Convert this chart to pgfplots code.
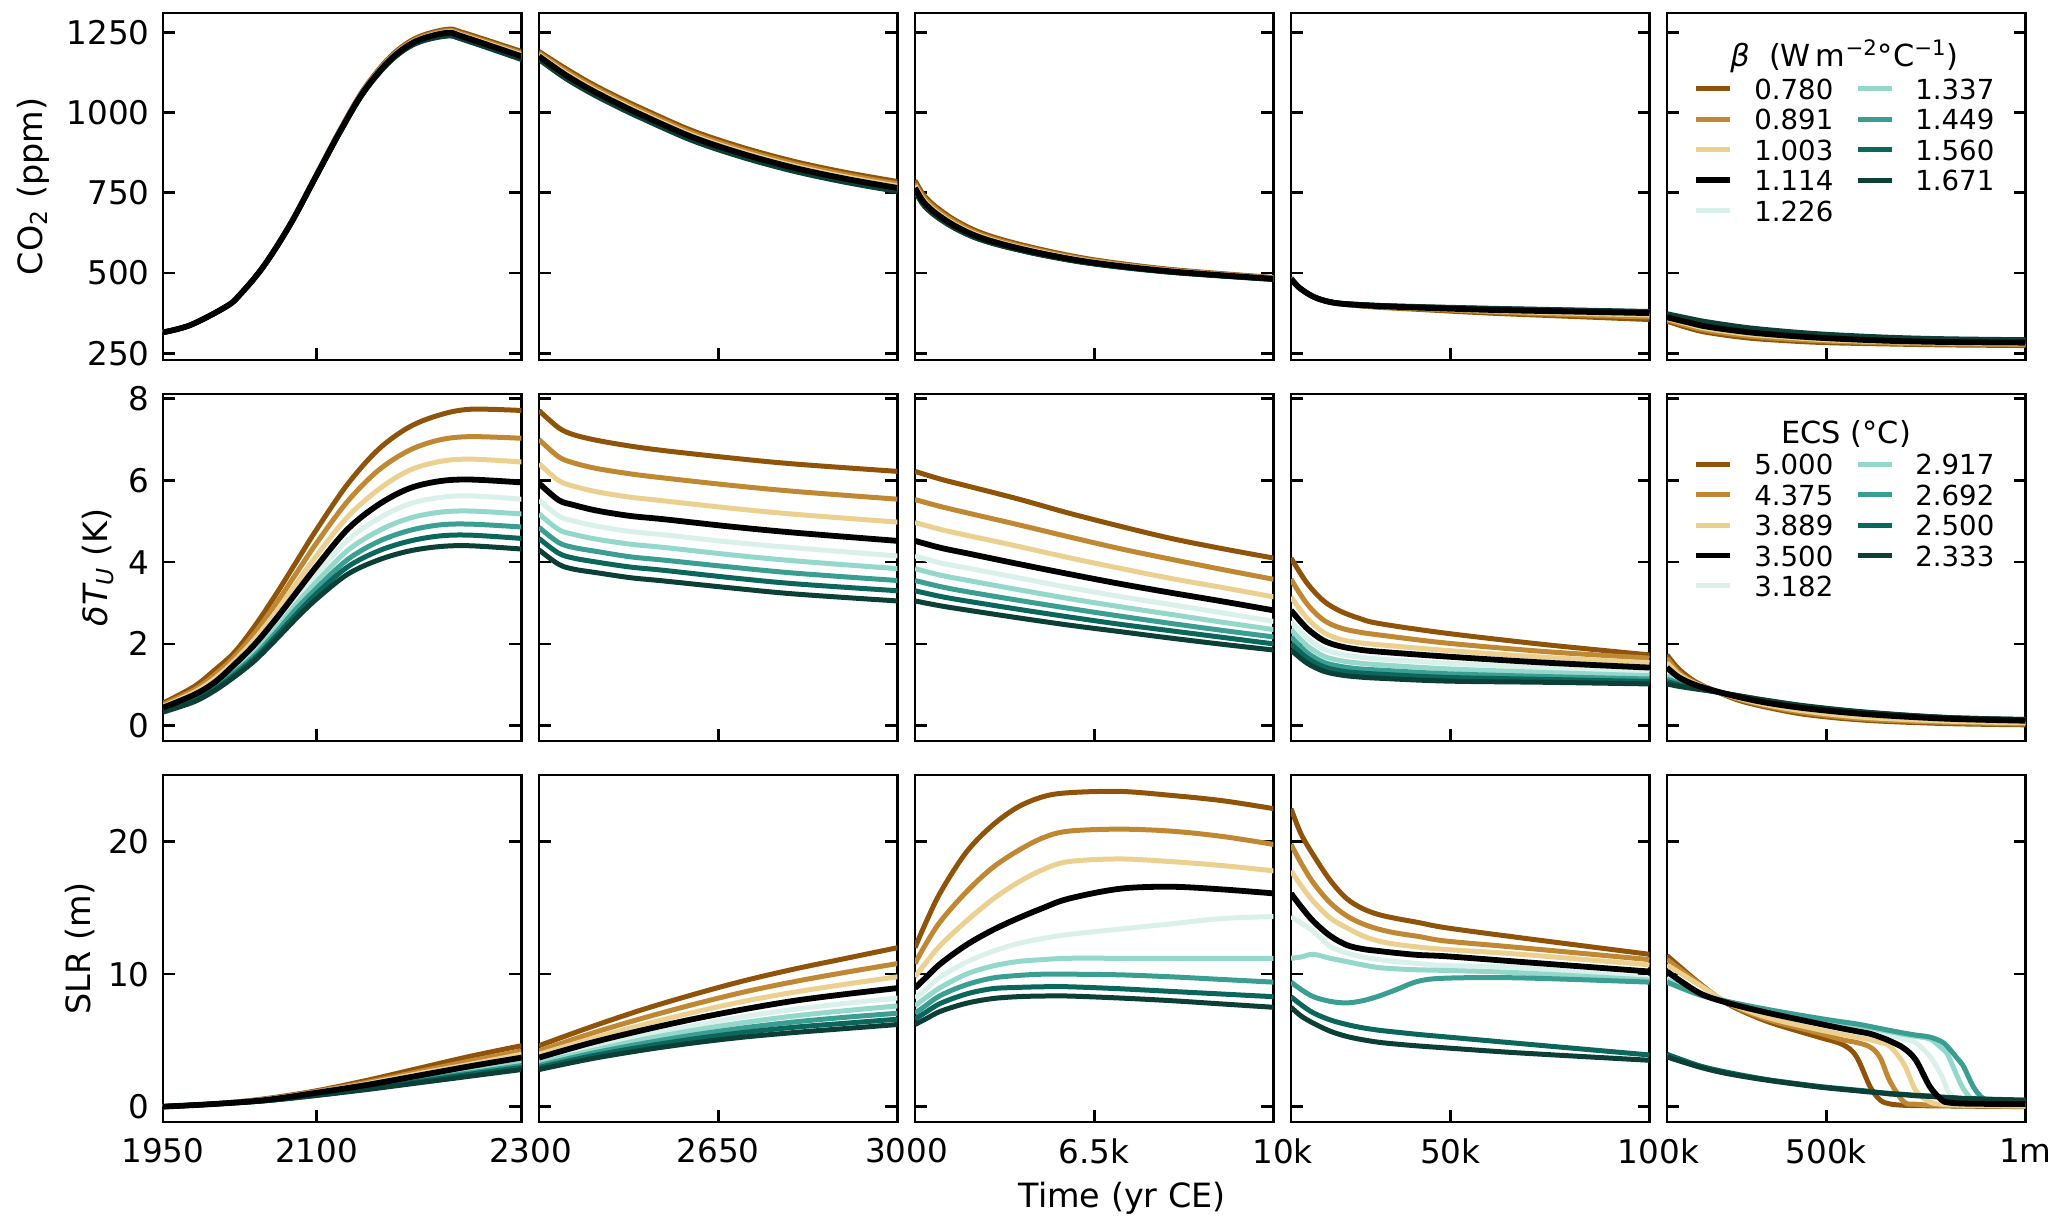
\documentclass[border=0pt]{standalone}
\usepackage{fontspec}
\setmainfont{DejaVu Sans}
\usepackage{pgfplots}
\usepackage{pgfplotstable}
\pgfplotsset{compat=1.18}

\definecolor{cA}{HTML}{8F5409}
\definecolor{cB}{HTML}{C08832}
\definecolor{cC}{HTML}{EBD08F}
\definecolor{cE}{HTML}{DAF0EB}
\definecolor{cF}{HTML}{93D8CA}
\definecolor{cG}{HTML}{3B9E92}
\definecolor{cH}{HTML}{0B665C}
\definecolor{cI}{HTML}{0C3F35}

% columns: time, then the nine runs from lowest beta to highest
% --- CO2 ---
\pgfplotstableread{
1950 315 315 315 315 315 315 315 315 315
1977 338 338 338 338 338 338 338 338 338
2012 396 396 396 396 396 396 396 396 396
2025 432 432 432 432 432 432 432 432 432
2048 521 521 520 520 520 520 520 520 520
2074 652 651 651 650 650 650 650 649 649
2100 808 807 806 805 805 804 804 804 803
2123 947 945 944 942 941 941 940 940 939
2146 1073 1071 1068 1066 1065 1064 1063 1063 1062
2172 1174 1171 1168 1165 1164 1163 1162 1161 1160
2197 1232 1228 1225 1222 1220 1219 1218 1217 1215
2227 1259 1255 1251 1248 1246 1244 1242 1240 1238
2243 1249 1244 1240 1236 1234 1232 1230 1229 1227
2300 1190 1185 1180 1175 1173 1171 1169 1167 1165
}\coa
\pgfplotstableread{
2300 1190 1185 1180 1175 1173 1171 1169 1167 1165
2350 1139 1132 1125 1119 1116 1114 1112 1110 1108
2400 1092 1085 1078 1072 1069 1067 1065 1063 1061
2450 1051 1044 1037 1031 1028 1026 1024 1022 1020
2500 1013 1006 999 993 990 988 986 984 982
2600 943 936 929 923 920 918 916 914 912
2700 890 883 876 870 867 865 863 861 859
2800 847 840 833 827 824 822 820 818 816
2900 813 806 799 793 790 788 786 784 782
3000 785 778 771 765 762 760 758 756 754
}\cob
\pgfplotstableread{
3000 788 778 772 765 762 760 758 756 754
3150 747 739 732 725 722 720 718 716 715
3300 721 714 706 700 697 695 693 692 690
3500 695 688 681 675 672 671 669 668 666
3800 663 657 650 645 642 641 640 638 637
4200 631 625 620 615 613 612 610 609 608
4700 604 599 594 590 588 587 586 585 584
5500 572 568 564 560 558 557 556 556 555
6500 541 538 535 532 531 530 529 529 528
8000 511 509 507 505 504 504 503 503 502
10000 486 485 483 482 481 481 481 480 480
}\coc
\pgfplotstableread{
10000 485 484 483 482 481 481 481 480 480
12000 455 455 455 455 455 455 455 455 455
15000 430 430 430 430 430 430 430 430 430
18000 415 415 415 415 415 415 416 416 416
22000 405 405 405 405 405 405 406 406 406
30000 395 396 397 398 398 399 399 400 400
40000 388 390 392 393 394 394 395 395 396
60000 375 379 382 385 386 387 388 389 390
80000 365 370 375 380 381 382 383 384 385
100000 355 363 369 375 376 377 378 379 380
}\cod
\pgfplotstableread{
100000 350 354 358 362 364 367 369 371 373
150000 330 336 342 347 350 353 355 358 360
200000 315 321 327 333 336 339 342 345 348
300000 298 304 310 316 319 322 325 328 330
400000 289 294 300 305 308 311 313 316 318
500000 283 288 292 297 300 302 304 307 309
650000 279 282 286 289 291 293 295 298 300
800000 276 279 282 285 287 289 291 293 295
1000000 274 277 280 283 285 287 288 290 292
}\coe
% --- upper ocean temperature ---
\pgfplotstableread{
1950 .55 .51 .47 .44 .41 .39 .37 .35 .33
1980 .95 .87 .81 .75 .71 .67 .64 .61 .58
2000 1.35 1.23 1.14 1.05 1.00 .96 .92 .88 .85
2020 1.80 1.69 1.59 1.50 1.43 1.36 1.30 1.25 1.20
2040 2.45 2.28 2.13 2.00 1.90 1.81 1.73 1.66 1.60
2060 3.20 2.97 2.77 2.60 2.48 2.36 2.27 2.18 2.10
2080 4.00 3.72 3.47 3.25 3.10 2.97 2.85 2.72 2.62
2100 4.80 4.47 4.16 3.90 3.70 3.52 3.36 3.23 3.10
2130 5.90 5.48 5.10 4.80 4.53 4.28 4.06 3.88 3.70
2160 6.75 6.24 5.77 5.40 5.06 4.76 4.50 4.27 4.05
2190 7.30 6.73 6.24 5.80 5.42 5.07 4.77 4.51 4.27
2220 7.60 6.99 6.46 5.98 5.58 5.22 4.91 4.64 4.38
2250 7.74 7.07 6.52 6.02 5.62 5.25 4.93 4.66 4.40
2300 7.71 7.03 6.45 5.95 5.54 5.18 4.86 4.58 4.32
}\dta
\pgfplotstableread{
2300 7.71 7.00 6.41 5.93 5.52 5.18 4.85 4.58 4.30
2338 7.29 6.58 6.00 5.52 5.13 4.80 4.48 4.22 3.95
2367 7.12 6.43 5.86 5.40 5.01 4.68 4.36 4.10 3.83
2413 6.98 6.29 5.72 5.26 4.88 4.56 4.26 4.00 3.74
2478 6.84 6.16 5.59 5.13 4.75 4.44 4.13 3.88 3.62
2543 6.73 6.06 5.50 5.05 4.67 4.36 4.05 3.80 3.54
2674 6.55 5.88 5.32 4.87 4.49 4.18 3.88 3.62 3.37
2800 6.40 5.73 5.17 4.72 4.35 4.03 3.73 3.47 3.22
3000 6.22 5.54 4.98 4.52 4.15 3.84 3.55 3.30 3.05
}\dtb
\pgfplotstableread{
3000 6.22 5.53 4.97 4.52 4.15 3.84 3.55 3.30 3.05
3500 6.03 5.36 4.80 4.35 3.98 3.68 3.40 3.16 2.93
4000 5.87 5.21 4.66 4.22 3.86 3.56 3.28 3.05 2.83
5000 5.55 4.92 4.39 3.96 3.62 3.33 3.07 2.85 2.64
6000 5.20 4.62 4.11 3.71 3.38 3.11 2.87 2.66 2.46
7000 4.88 4.33 3.85 3.47 3.16 2.91 2.68 2.48 2.30
8000 4.58 4.07 3.60 3.25 2.96 2.72 2.50 2.32 2.14
9000 4.33 3.82 3.38 3.04 2.76 2.53 2.33 2.16 1.99
10000 4.10 3.58 3.15 2.82 2.55 2.35 2.17 2.00 1.85
}\dtc
\pgfplotstableread{
10000 4.10 3.58 3.15 2.82 2.55 2.35 2.17 2.00 1.85
14000 3.49 2.98 2.63 2.38 2.15 1.96 1.79 1.66 1.53
18200 3.05 2.58 2.28 2.08 1.87 1.70 1.55 1.44 1.33
22400 2.80 2.39 2.11 1.94 1.75 1.59 1.45 1.34 1.24
27000 2.63 2.29 2.03 1.86 1.68 1.53 1.39 1.29 1.19
32000 2.50 2.22 1.98 1.81 1.63 1.49 1.36 1.26 1.16
49000 2.26 2.02 1.84 1.69 1.53 1.39 1.27 1.18 1.09
74000 1.98 1.81 1.67 1.54 1.41 1.30 1.20 1.13 1.06
100000 1.73 1.65 1.54 1.42 1.31 1.22 1.14 1.08 1.02
}\dtd
\pgfplotstableread{
100000 1.73 1.65 1.54 1.42 1.31 1.22 1.14 1.08 1.02
130000 1.38 1.30 1.25 1.18 1.12 1.08 1.04 1.00 .96
170000 1.08 1.05 1.03 1.00 .98 .96 .94 .92 .90
220000 .85 .85 .85 .85 .85 .84 .84 .83 .83
280000 .62 .65 .67 .70 .71 .72 .72 .73 .73
350000 .45 .48 .51 .56 .58 .59 .60 .61 .62
450000 .27 .31 .35 .42 .44 .45 .46 .47 .48
600000 .13 .16 .20 .28 .30 .31 .32 .32 .33
800000 .05 .08 .11 .17 .18 .19 .19 .20 .20
1000000 .02 .04 .07 .12 .13 .14 .14 .15 .15
}\dte
% --- sea level ---
\pgfplotstableread{
1950 0 0 0 0 0 0 0 0 0
2000 .20 .20 .20 .20 .20 .20 .20 .20 .20
2050 .60 .55 .55 .50 .50 .50 .45 .45 .45
2100 1.20 1.15 1.10 1.05 1.00 .95 .90 .85 .85
2150 2.00 1.85 1.75 1.65 1.55 1.50 1.40 1.35 1.30
2200 2.90 2.65 2.50 2.35 2.20 2.10 2.00 1.90 1.80
2250 3.80 3.45 3.20 3.05 2.85 2.70 2.55 2.45 2.30
2300 4.60 4.20 3.95 3.70 3.45 3.30 3.10 2.95 2.80
}\sla
\pgfplotstableread{
2300 4.60 4.20 3.95 3.70 3.45 3.30 3.10 2.95 2.80
2400 6.00 5.50 5.10 4.80 4.45 4.20 4.00 3.80 3.60
2500 7.30 6.65 6.15 5.75 5.35 5.05 4.75 4.50 4.25
2600 8.45 7.70 7.10 6.60 6.10 5.75 5.40 5.10 4.80
2700 9.50 8.65 7.95 7.35 6.80 6.35 5.95 5.60 5.25
2800 10.40 9.45 8.65 8.00 7.35 6.85 6.40 6.00 5.60
2900 11.20 10.15 9.25 8.50 7.80 7.25 6.75 6.30 5.90
3000 12.00 10.80 9.80 8.95 8.20 7.60 7.05 6.60 6.20
}\slb
\pgfplotstableread{
3000 12.0 10.8 9.8 8.95 8.2 7.6 7.05 6.6 6.2
3200 13.8 12.2 10.8 9.7 8.8 8.2 7.6 7.1 6.6
3500 16.2 14.0 12.2 10.8 9.8 9.0 8.4 7.8 7.2
4000 19.2 16.2 14.0 12.2 10.9 10.0 9.2 8.5 7.8
4500 21.2 18.0 15.6 13.3 11.7 10.6 9.7 8.9 8.15
5000 22.6 19.3 16.9 14.2 12.3 10.95 9.9 9.0 8.3
5500 23.4 20.3 17.9 15.0 12.7 11.1 10.0 9.05 8.35
6000 23.7 20.8 18.5 15.7 13.0 11.2 10.0 9.05 8.35
7000 23.8 20.95 18.7 16.45 13.4 11.2 9.95 8.9 8.2
8000 23.5 20.8 18.5 16.6 13.8 11.2 9.8 8.7 8.0
9000 23.1 20.4 18.2 16.4 14.2 11.2 9.6 8.5 7.75
10000 22.5 19.8 17.8 16.1 14.35 11.2 9.4 8.3 7.5
}\slc
\pgfplotstableread{
10000 22.5 19.8 17.8 16.1 14.35 11.2 9.4 8.3 7.5
12500 20.6 18.4 16.7 15.1 13.85 11.3 8.85 7.7 6.85
15600 19.0 16.9 15.5 14.0 13.25 11.5 8.3 7.08 6.3
19800 17.1 15.4 14.25 12.9 12.1 11.2 7.95 6.55 5.7
24000 15.7 14.4 13.5 12.2 11.6 10.95 7.83 6.2 5.3
28000 14.95 13.8 12.9 11.9 11.3 10.7 8.0 5.95 5.05
32000 14.5 13.4 12.5 11.75 11.1 10.5 8.34 5.77 4.86
36500 14.2 13.1 12.25 11.6 10.95 10.4 8.84 5.62 4.72
42000 13.9 12.85 12.05 11.45 10.8 10.33 9.47 5.45 4.58
49000 13.5 12.5 11.86 11.35 10.65 10.28 9.7 5.26 4.43
67600 12.75 12.0 11.5 10.93 10.5 10.1 9.72 4.76 4.05
100000 11.5 11.1 10.7 10.2 9.7 9.55 9.4 3.9 3.5
}\sld
\pgfplotstableread{
100000 11.4 11.1 10.7 10.2 9.7 9.55 9.4 3.95 3.75
180000 9.35 9.3 9.2 8.6 8.55 8.55 8.45 3.1 3.0
250000 7.8 7.85 7.9 7.85 7.95 7.95 7.95 2.6 2.5
350000 6.45 6.6 6.75 7.1 7.25 7.3 7.35 2.05 2.0
475000 5.3 5.6 5.85 6.3 6.5 6.6 6.7 1.55 1.5
540000 4.7 5.05 5.45 5.9 6.15 6.3 6.4 1.35 1.3
575000 3.8 4.85 5.25 5.7 5.95 6.1 6.25 1.25 1.2
610000 1.5 4.5 5.05 5.5 5.75 5.95 6.05 1.15 1.1
635000 .5 3.7 4.85 5.25 5.6 5.8 5.9 1.05 1.05
660000 .2 1.9 4.55 4.95 5.4 5.65 5.75 1.0 .95
695000 .1 .35 3.2 4.4 5.1 5.45 5.55 .92 .9
725000 .08 .18 1.2 3.5 4.8 5.3 5.4 .85 .82
760000 .06 .12 .35 1.5 3.8 5.1 5.25 .8 .77
790000 .05 .1 .18 .5 2.3 4.4 4.9 .72 .7
805000 .05 .09 .14 .32 1.2 3.9 4.5 .7 .67
830000 .04 .08 .12 .25 .45 2.2 3.6 .65 .63
845000 .03 .07 .1 .23 .33 1.3 3.0 .62 .6
870000 .03 .06 .09 .22 .28 .45 1.45 .6 .58
895000 .02 .05 .08 .21 .26 .33 .6 .58 .55
925000 .02 .04 .07 .2 .25 .3 .42 .55 .52
1000000 0 .02 .05 .2 .25 .3 .38 .5 .45
}\sle

\pgfplotsset{
  every axis/.append style={
    scale only axis, width=179.25pt, height=173.5pt,
    anchor=south west,
    axis line style={line width=1.3pt, black},
    tick style={line width=1.3pt, black},
    tick align=inside, major tick length=6pt,
    xtick pos=bottom, ytick pos=both, yticklabel pos=left,
    scaled x ticks=false, scaled y ticks=false,
    tick label style={font=\fontsize{16.3}{18}\selectfont},
    xticklabel style={inner sep=0pt, yshift=-8pt},
    yticklabel style={inner sep=0pt, xshift=-6.5pt},
    /pgf/number format/assume math mode=true,
    /pgf/number format/1000 sep={},
    legend cell align=left,
    legend image code/.code={\draw[##1] (0pt,0pt) -- (17pt,0pt);},
  },
  rowco/.style={ymin=229, ymax=1310, ytick={250,500,750,1000,1250}},
  rowdt/.style={ymin=-0.376, ymax=8.114, ytick={0,2,4,6,8}},
  rowsl/.style={ymin=-1.16, ymax=25.04, ytick={0,10,20}},
  inner col/.style={yticklabels={}},
  no x labels/.style={xticklabels={}},
  ylab pos/.style={every axis y label/.style={at={(rel axis cs:0,0.5)}, xshift=-#1, rotate=90, anchor=center,
    font=\fontsize{16.7}{19}\selectfont}},
  sA/.style={color=cA, line width=2.5pt, smooth, tension=0.55, no markers},
  sB/.style={color=cB, line width=2.5pt, smooth, tension=0.55, no markers},
  sC/.style={color=cC, line width=2.5pt, smooth, tension=0.55, no markers},
  sD/.style={color=black, line width=2.9pt, smooth, tension=0.55, no markers},
  sE/.style={color=cE, line width=2.5pt, smooth, tension=0.55, no markers},
  sF/.style={color=cF, line width=2.5pt, smooth, tension=0.55, no markers},
  sG/.style={color=cG, line width=2.5pt, smooth, tension=0.55, no markers},
  sH/.style={color=cH, line width=2.5pt, smooth, tension=0.55, no markers},
  sI/.style={color=cI, line width=2.5pt, smooth, tension=0.55, no markers},
  leg/.style={legend columns=2,
    legend style={at={(rel axis cs:0.074,#1)}, anchor=north west, draw=none, fill=none,
      inner sep=0pt, outer sep=0pt, row sep=4.6pt,
      font=\fontsize{13.8}{15}\selectfont,
      nodes={inner sep=0pt, text height=10.6pt, text depth=0pt},
      /tikz/every odd column/.append style={column sep=10.5pt},
      /tikz/every even column/.append style={column sep=11pt}}},
}

% black run goes on last, it sits on top in the original
\newcommand{\curves}[1]{%
  \addplot[sA, forget plot] table[x index=0, y index=1] {#1};
  \addplot[sB, forget plot] table[x index=0, y index=2] {#1};
  \addplot[sC, forget plot] table[x index=0, y index=3] {#1};
  \addplot[sE, forget plot] table[x index=0, y index=5] {#1};
  \addplot[sF, forget plot] table[x index=0, y index=6] {#1};
  \addplot[sG, forget plot] table[x index=0, y index=7] {#1};
  \addplot[sH, forget plot] table[x index=0, y index=8] {#1};
  \addplot[sI, forget plot] table[x index=0, y index=9] {#1};
  \addplot[sD, forget plot] table[x index=0, y index=4] {#1};
}
\newcommand{\legrow}[2]{\addlegendimage{#1}\addlegendentry{#2}}

\begin{document}
\begin{tikzpicture}[x=1pt, y=1pt]
\path[use as bounding box] (0,0) rectangle (1033.5,612);

% row 1: CO2
\begin{axis}[at={(81.5pt,432pt)}, rowco, no x labels, xmin=1950, xmax=2300, xtick={1950,2100},
    ylab pos=65pt, ylabel={CO\textsubscript{2} (ppm)}]
  \curves{\coa}
\end{axis}
\begin{axis}[at={(269.5pt,432pt)}, rowco, inner col, no x labels, xmin=2300, xmax=3000, xtick={2300,2650}]
  \curves{\cob}
\end{axis}
\begin{axis}[at={(457.5pt,432pt)}, rowco, inner col, no x labels, xmin=3000, xmax=10000, xtick={3000,6500}]
  \curves{\coc}
\end{axis}
\begin{axis}[at={(645.5pt,432pt)}, rowco, inner col, no x labels, xmin=10000, xmax=100000, xtick={10000,50000}]
  \curves{\cod}
\end{axis}
\begin{axis}[at={(833.5pt,432pt)}, rowco, inner col, no x labels, xmin=100000, xmax=1000000, xtick={100000,500000},
    leg=0.812]
  \curves{\coe}
  \legrow{sA}{0.780}\legrow{sF}{1.337}
  \legrow{sB}{0.891}\legrow{sG}{1.449}
  \legrow{sC}{1.003}\legrow{sH}{1.560}
  \legrow{sD}{1.114}\legrow{sI}{1.671}
  \legrow{sE}{1.226}
  \node[font=\fontsize{15.2}{17}\selectfont] at (rel axis cs:0.495,0.875)
    {{\itshape β}\ \ (W\,m\textsuperscript{−2}°C\textsuperscript{−1})};
\end{axis}

% row 2: upper ocean temperature
\begin{axis}[at={(81.5pt,241.5pt)}, rowdt, no x labels, xmin=1950, xmax=2300, xtick={1950,2100},
    ylab pos=32.5pt, ylabel={{\itshape δT\textsubscript{U}} (K)}]
  \curves{\dta}
\end{axis}
\begin{axis}[at={(269.5pt,241.5pt)}, rowdt, inner col, no x labels, xmin=2300, xmax=3000, xtick={2300,2650}]
  \curves{\dtb}
\end{axis}
\begin{axis}[at={(457.5pt,241.5pt)}, rowdt, inner col, no x labels, xmin=3000, xmax=10000, xtick={3000,6500}]
  \curves{\dtc}
\end{axis}
\begin{axis}[at={(645.5pt,241.5pt)}, rowdt, inner col, no x labels, xmin=10000, xmax=100000, xtick={10000,50000}]
  \curves{\dtd}
\end{axis}
\begin{axis}[at={(833.5pt,241.5pt)}, rowdt, inner col, no x labels, xmin=100000, xmax=1000000, xtick={100000,500000},
    leg=0.828]
  \curves{\dte}
  \legrow{sA}{5.000}\legrow{sF}{2.917}
  \legrow{sB}{4.375}\legrow{sG}{2.692}
  \legrow{sC}{3.889}\legrow{sH}{2.500}
  \legrow{sD}{3.500}\legrow{sI}{2.333}
  \legrow{sE}{3.182}
  \node[font=\fontsize{15.2}{17}\selectfont] at (rel axis cs:0.5,0.885) {ECS (°C)};
\end{axis}

% row 3: sea level
\begin{axis}[at={(81.5pt,51pt)}, rowsl, xmin=1950, xmax=2300, xtick={1950,2100}, xticklabels={1950,2100},
    extra x ticks={2300}, extra x tick labels={2300},
    extra tick style={major tick length=0pt, xticklabel style={xshift=4.5pt}},
    ylab pos=41.5pt, ylabel={SLR (m)}]
  \curves{\sla}
\end{axis}
\begin{axis}[at={(269.5pt,51pt)}, rowsl, inner col, xmin=2300, xmax=3000, xtick={2300,2650}, xticklabels={,2650},
    extra x ticks={3000}, extra x tick labels={3000},
    extra tick style={major tick length=0pt, xticklabel style={xshift=4.5pt}}]
  \curves{\slb}
\end{axis}
\begin{axis}[at={(457.5pt,51pt)}, rowsl, inner col, xmin=3000, xmax=10000, xtick={3000,6500}, xticklabels={,6.5k},
    extra x ticks={10000}, extra x tick labels={10k},
    extra tick style={major tick length=0pt, xticklabel style={xshift=4.5pt}},
    xlabel={Time (yr CE)}, every axis x label/.style={at={(rel axis cs:0.5,0)}, xshift=14pt, yshift=-38pt, anchor=center,
      font=\fontsize{16.7}{19}\selectfont}]
  \curves{\slc}
\end{axis}
\begin{axis}[at={(645.5pt,51pt)}, rowsl, inner col, xmin=10000, xmax=100000, xtick={10000,50000}, xticklabels={,50k},
    extra x ticks={100000}, extra x tick labels={100k},
    extra tick style={major tick length=0pt, xticklabel style={xshift=4.5pt}}]
  \curves{\sld}
\end{axis}
\begin{axis}[at={(833.5pt,51pt)}, rowsl, inner col, xmin=100000, xmax=1000000, xtick={100000,500000}, xticklabels={,500k},
    extra x ticks={1000000}, extra x tick labels={1m},
    extra tick style={major tick length=0pt}]
  \curves{\sle}
\end{axis}
\end{tikzpicture}
\end{document}
